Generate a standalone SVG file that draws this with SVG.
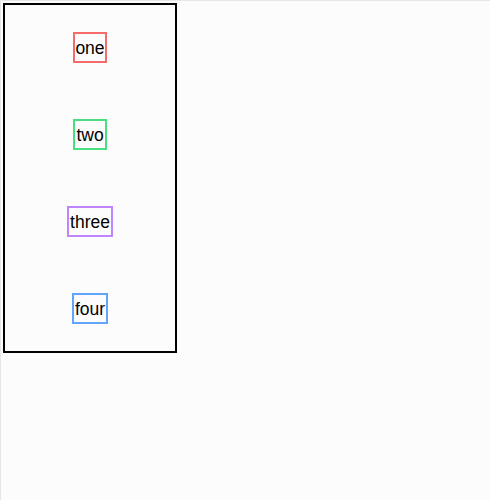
<svg xmlns="http://www.w3.org/2000/svg" width="490" height="500" viewBox="0 0 490 500">
<style>
.box{fill:none;stroke-width:2}
.lbl{font-family:"Liberation Sans",Arial,sans-serif;font-size:17.5px;fill:#000;text-anchor:middle;dominant-baseline:central}
</style>
<rect x="0" y="0" width="490" height="500" fill="#fcfcfc"/>
<path d="M0.5 500V0.5H490" fill="none" stroke="#e6e6e6" stroke-width="1"/>
<g id="container"><rect x="4" y="4" width="172" height="348" fill="none" stroke="#000" stroke-width="2"/></g>
<g id="connectors"></g>
<g id="one"><rect class="box" x="74" y="33" width="32" height="29" stroke="#f56b6b"/><text class="lbl" x="90" y="47.5">one</text></g>
<g id="two"><rect class="box" x="74" y="120" width="32" height="29" stroke="#4ade80"/><text class="lbl" x="90" y="134.5">two</text></g>
<g id="three"><rect class="box" x="68" y="207" width="44" height="29" stroke="#c084fc"/><text class="lbl" x="90" y="221.5">three</text></g>
<g id="four"><rect class="box" x="73" y="294" width="34" height="29" stroke="#60a5fa"/><text class="lbl" x="90" y="308.5">four</text></g>
</svg>
